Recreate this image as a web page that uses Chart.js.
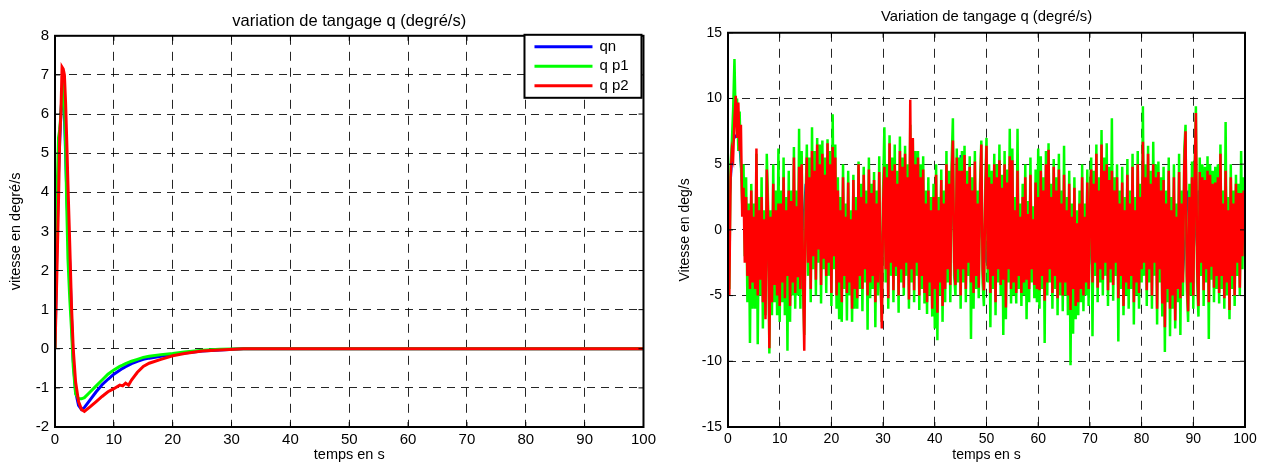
<!DOCTYPE html>
<html>
<head>
<meta charset="utf-8">
<script src="https://cdn.jsdelivr.net/npm/chart.js@4.4.0/dist/chart.umd.min.js"></script>
<style>
  html, body { margin: 0; padding: 0; background: #fff; }
  #wrap { position: relative; width: 1262px; height: 464px; overflow: hidden; }
  .box { position: absolute; top: 0; }
</style>
</head>
<body>
<div id="wrap">
  <div class="box" style="left:0;width:660px;height:464px"><canvas id="leftChart" width="660" height="464"></canvas></div>
  <div class="box" style="left:660px;width:602px;height:464px"><canvas id="rightChart" width="602" height="464"></canvas></div>
</div>
<script>
// ---- left plot: step response ----
const timeLeft = [0, 0.3, 0.6, 0.8, 1.0, 1.2, 1.4, 1.6, 1.8, 2.0, 2.2, 2.5, 2.8, 3.1, 3.5, 4.0, 4.5, 5.0,
  6, 7, 8, 9, 10, 11, 11.5, 12, 12.5, 13, 14, 15, 16, 18, 20, 22, 25, 28, 32, 40, 60, 80, 100];
const qnLeft = [0, 2.5, 4.5, 5.3, 6.0, 6.5, 6.6, 6.0, 5.0, 4.0, 3.2, 2.2, 0.8, -0.3, -1.1, -1.45, -1.55, -1.5,
  -1.3, -1.1, -0.92, -0.78, -0.65, -0.55, -0.5, -0.46, -0.42, -0.38, -0.32, -0.27, -0.24, -0.19, -0.15, -0.11, -0.06, -0.03, 0, 0, 0, 0, 0];
const qp1Left = [0, 3.7, 5.4, 5.6, 6.0, 6.5, 6.65, 6.3, 5.2, 3.6, 2.3, 1.3, 0.5, -0.45, -1.15, -1.28, -1.28, -1.25,
  -1.1, -0.95, -0.8, -0.65, -0.54, -0.45, -0.42, -0.38, -0.35, -0.32, -0.27, -0.22, -0.19, -0.15, -0.12, -0.08, -0.04, -0.01, 0, 0, 0, 0, 0];
const qp2Left = [0, 1.8, 3.8, 5.4, 6.0, 7.2, 7.15, 7.0, 6.3, 5.3, 4.2, 2.7, 1.1, 0.0, -0.85, -1.35, -1.55, -1.6,
  -1.48, -1.35, -1.22, -1.1, -1.02, -0.93, -0.95, -0.88, -0.93, -0.8, -0.6, -0.45, -0.37, -0.27, -0.18, -0.12, -0.06, -0.03, 0, 0, 0, 0, 0];

// ---- right plot: noisy response, one value every 0.25 s (qn every 1 s) ----
const qp1Right = [
  0, -4.5, 5.0, 6.7, 9.2, 13.0, 8.0, 10.0, 6.0, 9.0, 5.0, 2.0, 5.0, -2.0, 4.0, -5.5, 2.0, -8.6, 3.5, -6.0,
  2.0, -6.0, 5.8, -8.7, 2.5, -5.0, 4.0, -7.5, 1.5, -6.5, 5.8, 2.0, -9.4, 1.5, -6.5, 5.0, -5.5, 3.0, -6.5, 6.2,
  -7.0, 3.0, -5.5, 5.5, -6.5, 2.5, -9.2, 4.5, -7.0, 3.0, -5.0, 6.3, -6.0, 3.0, -5.0, 7.7, -6.0, 6.0, -4.0, -8.0,
  2.0, 6.5, -3.5, 5.5, -5.5, 7.8, -3.0, 6.0, -5.0, 7.0, -2.5, 6.5, -5.6, 6.8, -3.0, 5.5, -4.8, 6.9, -3.5, 6.0,
  -5.8, 8.8, -3.0, 6.5, -6.0, 4.0, -6.8, 2.5, -7.0, 5.0, -4.5, 2.0, -6.9, 4.5, -5.0, 1.5, -7.0, 4.2, -6.0, 2.5,
  -6.0, 5.2, -4.5, 3.5, -6.2, 4.8, -4.0, 3.0, -7.6, 5.5, -5.2, 3.5, -4.5, 4.4, -7.4, 3.0, -5.0, 5.6, -4.0, -7.0,
  3.0, 7.8, -4.0, 5.0, -6.0, 7.2, -3.5, 5.5, -5.5, 6.5, -3.5, 4.5, -6.3, 7.1, -4.0, 5.5, -5.0, 6.4, -3.5, 5.0,
  -6.0, 8.0, -4.0, 6.9, -5.5, 6.0, -3.5, 6.0, -6.1, 5.0, -4.5, 5.6, -5.6, 3.0, -6.4, 4.0, -5.0, 2.5, -6.6, 3.5,
  -7.5, 5.0, -8.4, 2.5, -5.0, 4.6, -7.0, 3.0, -5.5, 6.0, -4.0, 4.5, -5.5, 5.0, 8.5, -3.5, -5.0, 6.2, -4.0, 5.5,
  -6.0, 6.0, -4.0, 6.4, -5.5, 4.5, -3.5, 5.6, -8.3, 4.0, -6.0, 6.0, -4.5, 3.0, -5.2, 3.5, 6.8, -4.0, -5.8, 3.0,
  7.0, -4.0, 5.0, -7.4, 4.5, -4.5, 5.8, -6.5, 5.0, -4.0, 6.5, -5.0, 4.2, -8.0, 6.0, -6.8, 4.6, -4.0, 7.7, -5.6,
  6.2, -5.0, 2.5, -5.6, 7.7, -4.5, 2.0, -5.8, 3.5, -5.0, 5.0, -6.8, 2.2, -5.5, 5.5, -4.0, 1.8, -5.2, 4.6, -5.5,
  6.2, -6.0, 5.6, -4.5, 4.0, -8.6, 6.0, -5.0, 6.6, -4.0, 3.5, -6.0, 5.4, -4.5, 4.0, -6.5, 5.8, -5.0, 3.0, -6.2,
  6.4, -5.0, 2.5, -6.5, 4.5, -10.3, 2.0, -7.9, 4.0, -6.8, 1.5, -6.5, 3.0, -5.5, 5.0, -6.2, 2.0, -5.0, 4.6, -5.8,
  2.5, 5.5, -8.1, 4.5, -3.5, 6.5, -5.5, 4.0, -4.0, 7.6, -5.0, 5.5, -3.5, 6.6, -5.8, 4.8, -4.0, 8.5, -5.4, 4.0,
  -3.5, 5.0, -8.5, 3.0, -4.5, 4.8, -6.5, 2.5, -5.0, 5.4, -6.0, 3.0, -4.5, 5.8, -7.2, 2.5, -5.0, 6.0, -6.0, 3.5,
  -4.0, 9.4, -3.5, 5.0, -5.8, 6.4, -4.0, 4.5, -6.0, 6.7, -3.5, 5.0, -7.2, 5.2, -4.0, 4.0, -6.6, 4.8, -9.3, 3.0,
  -5.5, 5.5, -8.1, 2.5, -6.0, 5.0, -7.5, 2.0, -5.5, 5.8, -8.0, 3.0, -5.0, 6.0, 8.0, -4.5, -7.0, 3.5, -5.0, 5.2,
  -6.0, 4.5, 9.4, -4.0, -6.6, 5.5, -3.5, 5.0, -5.8, 4.8, -4.0, 5.6, -8.3, 5.0, -3.8, 4.5, -5.5, 4.8, -4.5, 5.0,
  -5.6, 6.5, -4.5, 3.0, -6.0, 8.2, -5.0, 2.5, -6.8, 5.0, -4.5, 3.0, -5.8, 4.2, -3.5, 3.5, -5.0, 6.0, -3.0, 4.0, 1.0];
const qp2Right = [
  0, -5.0, 4.0, 6.0, 5.5, 8.5, 10.2, 7.0, 9.7, 6.0, 8.0, 1.0, 3.2, -2.5, 2.5, -3.5, 1.5, -4.5, 3.0, -4.0,
  1.0, -4.5, 6.2, -5.0, 1.5, -3.8, 2.5, -5.5, 0.8, -6.8, 4.6, 1.2, -9.0, 1.0, -5.5, 3.5, -4.2, 1.5, -5.0, 2.0,
  -5.8, 2.0, -4.0, 4.0, -5.2, 1.5, -3.5, 3.0, -5.8, 2.2, -4.0, 5.5, -4.8, 1.8, -3.6, 4.8, -4.5, 5.0, -3.0, -9.2,
  1.0, 5.5, -2.5, 4.0, -4.5, 6.0, -2.0, 4.5, -3.8, 6.5, -1.5, 5.0, -4.2, 5.8, -2.2, 4.2, -3.5, 6.6, -2.5, 5.0,
  -4.8, 6.3, -2.0, 5.5, -5.0, 3.0, -4.0, 1.5, -5.5, 4.0, -3.5, 1.0, -4.8, 3.6, -4.0, 0.8, -6.0, 3.8, -4.5, 1.5,
  -5.2, 5.0, -3.5, 2.5, -4.5, 4.2, -3.0, 2.0, -5.0, 4.6, -4.0, 2.8, -3.5, 3.8, -5.5, 2.0, -4.0, 4.4, -3.0, -7.5,
  2.0, 4.8, -3.0, 4.0, -5.2, 6.6, -2.5, 4.5, -4.6, 5.0, -2.8, 3.5, -5.0, 6.0, -3.0, 4.8, -4.4, 5.8, -2.5, 4.0,
  -5.3, 9.9, -3.0, 7.0, -4.6, 5.0, -2.5, 5.5, -5.0, 4.0, -3.5, 4.6, -4.8, 2.0, -5.5, 3.0, -4.0, 1.5, -6.0, 2.5,
  -4.5, 4.2, -6.3, 1.5, -4.0, 3.8, -5.8, 2.0, -4.5, 5.0, -3.0, 3.5, -4.2, 4.0, 6.8, -2.5, -4.2, 5.5, -3.0, 4.5,
  -5.0, 4.5, -3.0, 5.7, -4.5, 3.5, -2.5, 4.8, -4.0, 3.0, -4.8, 5.2, -3.5, 2.0, -4.4, 2.5, 6.5, -3.0, -4.6, 2.0,
  6.4, -3.0, 4.0, -4.8, 3.5, -3.5, 5.0, -5.5, 4.0, -3.0, 5.3, -4.2, 3.2, -3.8, 5.0, -5.9, 3.6, -3.0, 5.6, -4.5,
  5.3, -4.0, 1.5, -4.8, 4.5, -3.5, 1.0, -4.8, 2.5, -4.0, 4.0, -3.8, 1.2, -4.5, 4.2, -3.0, 0.8, -4.2, 3.6, -4.5,
  2.5, -4.6, 4.5, -3.5, 3.0, -5.4, 5.0, -4.0, 6.1, -3.0, 2.5, -4.8, 4.8, -3.5, 3.0, -5.2, 4.6, -4.0, 2.0, -5.0,
  4.2, -4.0, 1.5, -5.0, 3.5, -6.1, 1.0, -4.5, 3.2, -5.8, 0.5, -5.5, 2.0, -4.5, 4.0, -5.0, 1.0, -4.0, 3.6, -4.5,
  1.5, 4.6, -4.0, 3.5, -2.5, 5.8, -4.4, 3.0, -3.0, 6.5, -3.8, 4.5, -2.5, 5.0, -4.6, 3.8, -3.0, 4.5, -4.2, 3.0,
  -2.5, 4.0, -5.2, 2.0, -3.5, 3.6, -5.8, 1.5, -4.0, 4.2, -4.5, 2.0, -3.5, 4.8, -5.5, 1.5, -4.0, 5.0, -4.8, 2.5,
  -3.0, 6.7, -2.5, 4.0, -4.6, 5.8, -3.0, 3.5, -5.0, 5.0, -2.5, 4.0, -6.0, 4.4, -3.0, 3.0, -5.6, 3.8, -7.4, 2.0,
  -4.5, 4.5, -6.0, 1.5, -5.0, 4.0, -6.9, 1.0, -4.5, 4.4, -5.2, 2.0, -4.0, 4.8, 7.5, -3.5, -6.2, 2.5, -4.0, 4.0,
  -5.0, 3.5, 8.9, -3.0, -5.8, 4.4, -2.5, 4.0, -4.6, 3.8, -3.0, 4.5, -5.5, 4.2, -2.8, 3.5, -4.4, 3.6, -3.5, 4.0,
  -4.8, 5.8, -3.5, 2.0, -5.2, 4.5, -4.0, 1.5, -6.1, 4.0, -3.5, 2.0, -5.0, 3.5, -2.5, 2.8, -4.4, 2.8, -2.0, 3.0, 0.5];
const qnRight = [
  0, 6.8, 7.5, 2.0, -2.0, 0.5, -3.0, 0.5, -3.5, 0.5,
  -3.0, 1.0, -2.5, 1.0, -3.0, 3.5, -1.0, 3.5, -1.5, 3.5,
  -1.0, 0.5, -3.5, 0.5, -3.0, 1.5, -2.5, 1.5, -3.0, 1.0,
  -1.5, 3.5, -1.5, 3.5, -2.0, 4.0, -1.5, 1.0, -3.5, 1.0,
  -3.0, 1.0, -2.0, 3.0, -1.5, 5.7, -2.0, 1.0, -3.0, 1.0,
  -2.5, 3.0, -2.5, 3.0, -2.5, 1.0, -3.0, 0.5, -3.0, 0.5,
  -3.0, 2.5, -3.0, 2.5, -3.0, 0.5, -4.0, 0.5, -3.5, 0.5,
  -2.0, 3.5, -2.0, 3.5, -2.0, 1.0, -3.0, 1.0, -3.0, 1.0,
  -2.0, 3.5, -2.0, 3.0, -3.5, 0.5, -4.0, 0.5, -3.5, 3.0,
  -2.0, 3.0, -2.0, 3.0, -2.0, 1.0, -3.0, 1.0, -3.0, 2.0, 0.5];
const timeRight = qp2Right.map((v, i) => i * 0.25);
const timeRightQn = qnRight.map((v, i) => i);

// tick labels
const xTicks = [0, 10, 20, 30, 40, 50, 60, 70, 80, 90, 100];
const yTicksLeft = [-2, -1, 0, 1, 2, 3, 4, 5, 6, 7, 8];
const yTicksRight = [-15, -10, -5, 0, 5, 10, 15];
const seriesLabels = ['qn', 'q p1', 'q p2'];
const seriesColors = ['#0000ff', '#00ff00', '#ff0000'];

const FONT = '"Liberation Sans", Arial, sans-serif';
Chart.defaults.font.family = FONT;
Chart.defaults.color = '#000';

const toPoints = (xs, ys) => ys.map((y, i) => ({x: xs[i], y: y}));

// box around the plot, inner tick marks, MATLAB-like legend
const frame = {
  id: 'frame',
  afterDatasetsDraw(chart, args, opts) {
    const {ctx, chartArea: a, scales} = chart;
    ctx.save();
    ctx.strokeStyle = '#000';
    ctx.lineWidth = 1;
    ctx.beginPath();
    scales.x.ticks.forEach(t => {
      const px = scales.x.getPixelForValue(t.value);
      ctx.moveTo(px, a.bottom); ctx.lineTo(px, a.bottom - 5);
      ctx.moveTo(px, a.top); ctx.lineTo(px, a.top + 5);
    });
    scales.y.ticks.forEach(t => {
      const py = scales.y.getPixelForValue(t.value);
      ctx.moveTo(a.left, py); ctx.lineTo(a.left + 5, py);
      ctx.moveTo(a.right, py); ctx.lineTo(a.right - 5, py);
    });
    ctx.stroke();
    ctx.lineWidth = 2;
    ctx.strokeRect(a.left, a.top, a.right - a.left, a.bottom - a.top);

    if (opts.legend) {
      const L = opts.legend;
      const x0 = a.right - 2 - L.w, y0 = a.top - 1;
      ctx.fillStyle = '#fff';
      ctx.fillRect(x0, y0, L.w, L.h);
      ctx.lineWidth = 2;
      ctx.strokeRect(x0, y0, L.w, L.h);
      ctx.font = L.size + 'px ' + FONT;
      ctx.textBaseline = 'middle';
      ctx.textAlign = 'left';
      chart.data.datasets.forEach((ds, i) => {
        const y = y0 + L.first + i * L.row;
        ctx.strokeStyle = ds.borderColor;
        ctx.lineWidth = 3;
        ctx.beginPath();
        ctx.moveTo(x0 + 10, y); ctx.lineTo(x0 + 68, y);
        ctx.stroke();
        ctx.fillStyle = '#000';
        ctx.fillText(ds.label, x0 + 75, y);
      });
    }
    ctx.restore();
  }
};

function makeScales(yMin, yMax, yTicks, yTitle, yWidth, yTitlePad, fs, titleFs) {
  const gridColor = 'rgba(0,0,0,0.85)';
  return {
    x: {
      type: 'linear', min: 0, max: 100,
      afterBuildTicks: s => { s.ticks = xTicks.map(v => ({value: v})); },
      afterFit: s => { s.height = 37; },
      ticks: {padding: 4, font: {size: fs}, maxRotation: 0},
      grid: {color: gridColor, lineWidth: 1, drawTicks: false},
      border: {display: false, dash: [9, 7]},
      title: {display: true, text: 'temps en s', font: {size: titleFs}, padding: {top: 0, bottom: 0}}
    },
    y: {
      type: 'linear', min: yMin, max: yMax,
      afterBuildTicks: s => { s.ticks = yTicks.map(v => ({value: v})); },
      afterFit: s => { s.width = yWidth; },
      ticks: {padding: 6, font: {size: fs}},
      grid: {color: gridColor, lineWidth: 1, drawTicks: false},
      border: {display: false, dash: [8, 6]},
      title: {display: true, text: yTitle, font: {size: titleFs}, padding: {top: yTitlePad, bottom: 0}}
    }
  };
}

function lineSet(i, xs, ys, width) {
  return {
    label: seriesLabels[i],
    data: toPoints(xs, ys),
    borderColor: seriesColors[i],
    backgroundColor: seriesColors[i],
    borderWidth: width,
    pointRadius: 0,
    tension: 0,
    order: 2 - i
  };
}

new Chart(document.getElementById('leftChart'), {
  type: 'line',
  data: {
    datasets: [
      lineSet(0, timeLeft, qnLeft, 3),
      lineSet(1, timeLeft, qp1Left, 3),
      lineSet(2, timeLeft, qp2Left, 3)
    ]
  },
  options: {
    responsive: false,
    animation: false,
    layout: {padding: {left: 0, right: 12, top: 0, bottom: 0}},
    scales: makeScales(-2, 8, yTicksLeft, 'vitesse en degré/s', 55, 7, 15, 14.5),
    plugins: {
      legend: {display: false},
      tooltip: {enabled: false},
      title: {
        display: true, fullSize: false,
        text: 'variation de tangage q (degré/s)',
        font: {size: 16.5, weight: 'normal'},
        padding: {top: 12, bottom: 4}
      },
      frame: {legend: {w: 117, h: 63, first: 12, row: 19.5, size: 15}}
    }
  },
  plugins: [frame]
});

new Chart(document.getElementById('rightChart'), {
  type: 'line',
  data: {
    datasets: [
      lineSet(0, timeRightQn, qnRight, 2),
      lineSet(1, timeRight, qp1Right, 2.5),
      lineSet(2, timeRight, qp2Right, 2.5)
    ]
  },
  options: {
    responsive: false,
    animation: false,
    layout: {padding: {left: 0, right: 17, top: 0, bottom: 0}},
    scales: makeScales(-15, 15, yTicksRight, 'Vitesse en deg/s', 68, 17, 14, 14),
    plugins: {
      legend: {display: false},
      tooltip: {enabled: false},
      title: {
        display: true, fullSize: false,
        text: 'Variation de tangage q (degré/s)',
        font: {size: 14.8, weight: 'normal'},
        padding: {top: 8, bottom: 7}
      },
      frame: {}
    }
  },
  plugins: [frame]
});
</script>
</body>
</html>
